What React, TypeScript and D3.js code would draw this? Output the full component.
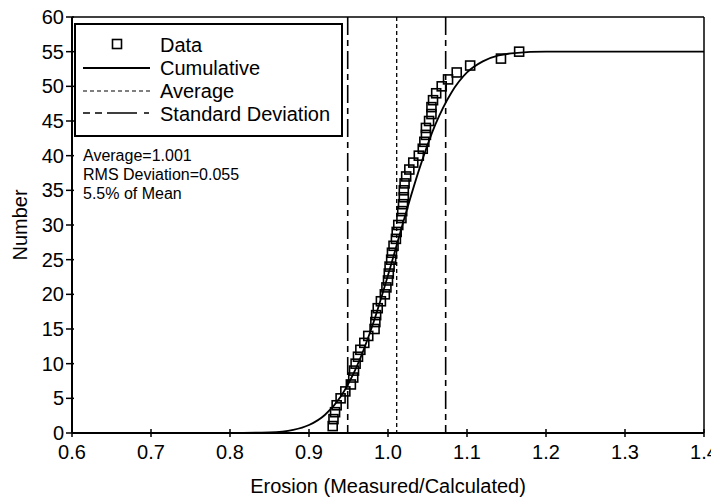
import React from "react";
import * as d3 from "d3";

const dataX = [
  0.930, 0.931, 0.933, 0.935, 0.940, 0.946, 0.953, 0.956, 0.957, 0.959,
  0.962, 0.965, 0.970, 0.975, 0.983, 0.984, 0.985, 0.987, 0.991, 0.996,
  0.998, 1.000, 1.001, 1.002, 1.004, 1.005, 1.007, 1.010, 1.011, 1.013,
  1.017, 1.018, 1.019, 1.020, 1.020, 1.021, 1.023, 1.027, 1.032, 1.039,
  1.044, 1.046, 1.048, 1.048, 1.052, 1.055, 1.055, 1.057, 1.061, 1.068,
  1.076, 1.087, 1.104, 1.143, 1.166,
];
const dataY = [
  1, 2, 3, 4, 5, 6, 7, 8, 9, 10,
  11, 12, 13, 14, 15, 16, 17, 18, 19, 20,
  21, 22, 23, 24, 25, 26, 27, 28, 29, 30,
  31, 32, 33, 34, 35, 36, 37, 38, 39, 40,
  41, 42, 43, 44, 45, 46, 47, 48, 49, 50,
  51, 52, 53, 54, 55,
];

const curveX = [0.6, 0.8, 0.85, 0.88, 0.9, 0.92, 0.94, 0.96, 0.98, 1.0, 1.02, 1.04, 1.06, 1.08, 1.1, 1.12, 1.14, 1.16, 1.2, 1.3, 1.4];
const curveY = [0, 0, 0.09, 0.45, 1.15, 2.6, 5.24, 9.48, 15.4, 22.75, 30.7, 38.2, 44.5, 49.05, 52.0, 53.6, 54.45, 54.8, 55, 55, 55];

const averageX = [1.011];
const stdDevX = [0.949, 1.073];

const xTicks = [0.6, 0.7, 0.8, 0.9, 1.0, 1.1, 1.2, 1.3, 1.4];
const yTicks = [0, 5, 10, 15, 20, 25, 30, 35, 40, 45, 50, 55, 60];

const legendLabels = ["Data", "Cumulative", "Average", "Standard Deviation"];
const notes = ["Average=1.001", "RMS Deviation=0.055", "5.5% of Mean"];
const xTitle = "Erosion (Measured/Calculated)";
const yTitle = "Number";

const FONT = "'Liberation Sans', Arial, Helvetica, sans-serif";
const STD_DASH = "18,5,6,5";
const AVG_DASH = "4,3";

export default function App() {
  const W = 711, H = 500;
  const left = 72, right = 704, top = 17, bottom = 433;
  const x = d3.scaleLinear().domain([0.6, 1.4]).range([left, right]);
  const y = d3.scaleLinear().domain([0, 60]).range([bottom, top]);

  const line = d3
    .line<number>()
    .x((d, i) => x(curveX[i]))
    .y((d) => y(d))
    .curve(d3.curveMonotoneX);
  const curvePath = line(curveY) || "";

  const sq = 9;

  return (
    <svg
      width={W}
      height={H}
      style={{ position: "absolute", left: 0, top: 0, background: "#fff" }}
      fontFamily={FONT}
    >
      <rect x={0} y={0} width={W} height={H} fill="#fff" />
      {/* vertical reference lines */}
      {stdDevX.map((v, i) => (
        <line key={"s" + i} x1={x(v)} x2={x(v)} y1={top} y2={bottom} stroke="#000" strokeWidth={1.6} strokeDasharray={STD_DASH} />
      ))}
      {averageX.map((v, i) => (
        <line key={"a" + i} x1={x(v)} x2={x(v)} y1={top} y2={bottom} stroke="#000" strokeWidth={1.3} strokeDasharray={AVG_DASH} />
      ))}
      {/* cumulative curve */}
      <path d={curvePath} fill="none" stroke="#000" strokeWidth={1.8} />
      {/* data squares */}
      {dataY.map((v, i) => (
        <rect key={i} x={x(dataX[i]) - sq / 2} y={y(v) - sq / 2} width={sq} height={sq} fill="none" stroke="#000" strokeWidth={1.6} />
      ))}
      {/* frame */}
      <line x1={left} x2={right} y1={top} y2={top} stroke="#000" strokeWidth={1.5} />
      <line x1={right} x2={right} y1={top} y2={bottom} stroke="#000" strokeWidth={1.5} />
      <line x1={left} x2={right} y1={bottom} y2={bottom} stroke="#000" strokeWidth={2} />
      <line x1={left} x2={left} y1={top} y2={bottom} stroke="#000" strokeWidth={2} />
      {/* x ticks */}
      {xTicks.map((t) => (
        <g key={"xt" + t}>
          <line x1={x(t)} x2={x(t)} y1={bottom - 4} y2={bottom + 4} stroke="#000" strokeWidth={1.5} />
          <text x={x(t)} y={bottom + 26} textAnchor="middle" fontSize={20}>
            {t.toFixed(1)}
          </text>
        </g>
      ))}
      {/* y ticks */}
      {yTicks.map((t) => (
        <g key={"yt" + t}>
          <line x1={left - 6} x2={left + 2} y1={y(t)} y2={y(t)} stroke="#000" strokeWidth={1.5} />
          <text x={left - 8} y={y(t) + 7} textAnchor="end" fontSize={20}>
            {t}
          </text>
        </g>
      ))}
      {/* axis titles */}
      <text x={(left + right) / 2} y={493} textAnchor="middle" fontSize={20}>
        {xTitle}
      </text>
      <text transform={`translate(27,${(top + bottom) / 2}) rotate(-90)`} textAnchor="middle" fontSize={20}>
        {yTitle}
      </text>
      {/* legend */}
      <rect x={75} y={24} width={267} height={112} fill="#fff" stroke="#000" strokeWidth={2} />
      <rect x={117 - 4.5} y={44 - 4.5} width={9} height={9} fill="none" stroke="#000" strokeWidth={1.6} />
      <line x1={83} x2={150} y1={68} y2={68} stroke="#000" strokeWidth={1.8} />
      <line x1={83} x2={150} y1={91} y2={91} stroke="#000" strokeWidth={1.2} strokeDasharray={AVG_DASH} />
      <line x1={83} x2={150} y1={113} y2={113} stroke="#000" strokeWidth={1.6} strokeDasharray="7,5,7,5,30" />
      {legendLabels.map((l, i) => (
        <text key={l} x={160} y={52 + i * 23} fontSize={20}>
          {l}
        </text>
      ))}
      {notes.map((n, i) => (
        <text key={n} x={83} y={161 + i * 19} fontSize={16}>
          {n}
        </text>
      ))}
    </svg>
  );
}
